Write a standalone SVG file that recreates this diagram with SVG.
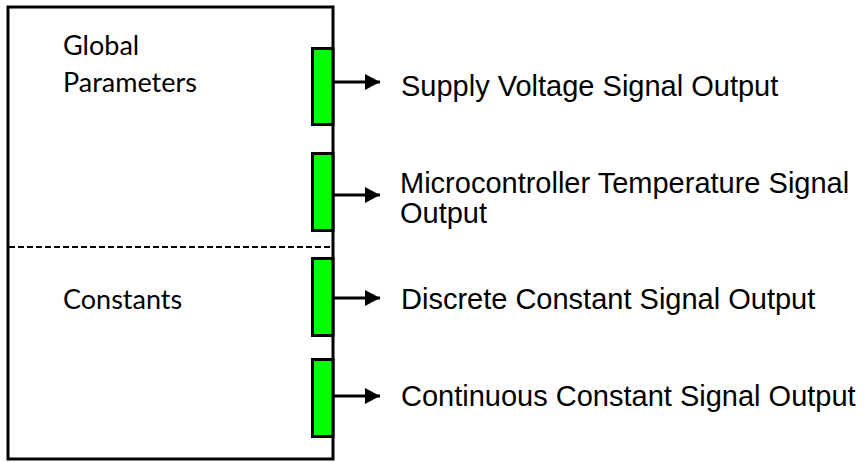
<svg xmlns="http://www.w3.org/2000/svg" width="864" height="462" viewBox="0 0 864 462">
<style>
.box{fill:#fff;stroke:#000;stroke-width:3}
.port{fill:#00ff00;stroke:#000;stroke-width:3}
.conn{stroke:#000;stroke-width:3;fill:none}
.lbl{font-family:"Liberation Sans",Arial,sans-serif;font-size:29px;fill:#000}
.sec{font-family:Lato,"Liberation Sans",sans-serif;font-size:27px;fill:#000}
</style>
<defs>
<marker id="ah" markerUnits="userSpaceOnUse" markerWidth="16" markerHeight="16" refX="15" refY="8" orient="auto">
<path d="M0,0 L15,8 L0,16 Z" fill="#000"/>
</marker>
</defs>
<g id="block">
<rect class="box" x="8" y="7" width="325" height="452"/>
<line x1="9" y1="247" x2="333" y2="247" stroke="#000" stroke-width="2" stroke-dasharray="6,3"/>
<text class="sec" x="63" y="55">Global</text>
<text class="sec" x="63" y="92">Parameters</text>
<text class="sec" x="63" y="309">Constants</text>
</g>
<g id="port1"><rect class="port" x="312.5" y="48.5" width="20.5" height="76"/></g>
<g id="port2"><rect class="port" x="312.5" y="153.5" width="20.5" height="77"/></g>
<g id="port3"><rect class="port" x="312.5" y="258.5" width="20.5" height="77"/></g>
<g id="port4"><rect class="port" x="312.5" y="359.5" width="20.5" height="77"/></g>
<g id="connectors">
<line class="conn" x1="333" y1="82" x2="380" y2="82" marker-end="url(#ah)"/>
<line class="conn" x1="333" y1="195" x2="380" y2="195" marker-end="url(#ah)"/>
<line class="conn" x1="333" y1="298" x2="380" y2="298" marker-end="url(#ah)"/>
<line class="conn" x1="333" y1="396" x2="380" y2="396" marker-end="url(#ah)"/>
</g>
<g id="out1"><text class="lbl" x="401" y="96">Supply Voltage Signal Output</text></g>
<g id="out2"><text class="lbl" x="400" y="193">Microcontroller Temperature Signal</text><text class="lbl" x="400" y="223">Output</text></g>
<g id="out3"><text class="lbl" x="401" y="309">Discrete Constant Signal Output</text></g>
<g id="out4"><text class="lbl" x="401" y="406">Continuous Constant Signal Output</text></g>
</svg>
